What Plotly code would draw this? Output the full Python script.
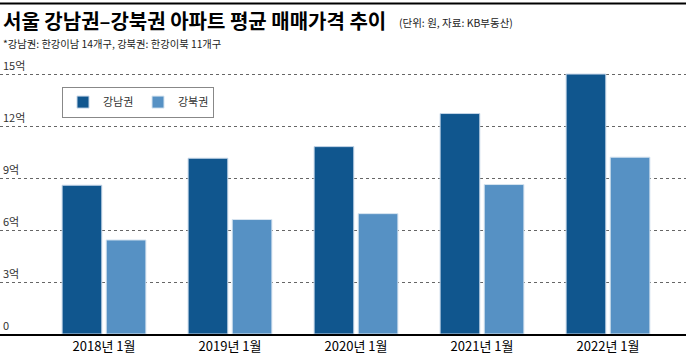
import plotly.graph_objects as go

categories = ["2018년 1월", "2019년 1월", "2020년 1월", "2021년 1월", "2022년 1월"]
gangnam = [8.59, 10.15, 10.82, 12.73, 15.01]
gangbuk = [5.43, 6.61, 6.95, 8.63, 10.21]
tick_vals = [0, 3, 6, 9, 12, 15]
tick_text = ["0", "3억", "6억", "9억", "12억", "15억"]

FONT = "Noto Sans CJK KR"
W, H = 686, 355
T, B = 48, 18
PH = H - T - B

def py(p):
    return (H - B - p) / PH

fig = go.Figure()
fig.add_trace(go.Bar(x=categories, y=gangnam, name="강남권",
                     marker=dict(color="#10568E", line=dict(color="#c5d6e8", width=1))))
fig.add_trace(go.Bar(x=categories, y=gangbuk, name="강북권",
                     marker=dict(color="#5691C4", line=dict(color="#d6e4f0", width=1))))

fig.update_layout(
    width=W, height=H,
    margin=dict(l=0, r=0, t=T, b=B),
    paper_bgcolor="white", plot_bgcolor="white",
    barmode="group", bargap=0.3, bargroupgap=0.1,
    font=dict(family=FONT, color="black"),
    showlegend=True,
    legend=dict(orientation="h", x=62 / W, y=py(87), xanchor="left", yanchor="top",
                bordercolor="#888888", borderwidth=1, bgcolor="white",
                font=dict(size=11, color="#333333", family=FONT),
                itemwidth=30, tracegroupgap=0, entrywidth=30, entrywidthmode="pixels"),
    xaxis=dict(range=[-104 / 126, -104 / 126 + W / 126], showline=True, linecolor="black",
               linewidth=1.5, ticks="", tickfont=dict(size=13, color="black"),
               showgrid=False, fixedrange=True),
    yaxis=dict(range=[0, PH / 17.5], tickvals=tick_vals, ticktext=tick_text,
               ticklabelposition="inside top", showgrid=True, gridcolor="#666666",
               griddash="dot", gridwidth=1, zeroline=False,
               tickfont=dict(size=11, color="#333333"), ticks=""),
)

fig.add_shape(type="line", xref="paper", yref="paper", x0=0, x1=1, y0=py(3), y1=py(3),
              line=dict(color="black", width=2))

fig.add_annotation(xref="paper", yref="paper", x=1 / W, y=py(20), xanchor="left", yanchor="middle",
                   text="<b>서울 강남권–강북권 아파트 평균 매매가격 추이</b>", showarrow=False,
                   font=dict(size=20, color="black", family=FONT))
fig.add_annotation(xref="paper", yref="paper", x=397 / W, y=py(22), xanchor="left", yanchor="middle",
                   text="(단위: 원, 자료: KB부동산)", showarrow=False,
                   font=dict(size=10.5, color="#222222", family=FONT))
fig.add_annotation(xref="paper", yref="paper", x=1 / W, y=py(43), xanchor="left", yanchor="middle",
                   text="*강남권: 한강이남 14개구, 강북권: 한강이북 11개구", showarrow=False,
                   font=dict(size=10.3, color="#222222", family=FONT))

fig.write_html("out.html")
